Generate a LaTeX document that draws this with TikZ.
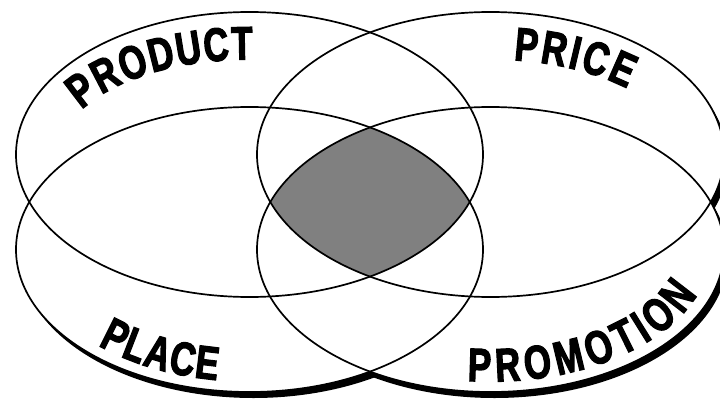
\documentclass[tikz,border=0pt]{standalone}
\usepackage{fontspec}
\newfontfamily\lfont[FakeStretch=0.74,FakeBold=2.5]{Liberation Sans}
\newcommand\labfont{\lfont\bfseries\fontsize{47}{47}\selectfont}
\usetikzlibrary{decorations.text,calc}
\begin{document}
\begin{tikzpicture}[x=1pt,y=1pt,
  ell/.style={x radius=233.5pt,y radius=142.5pt},
  outline/.style={draw=black,line width=1.7pt},
  lbl/.style={decorate,decoration={text along path,text align=fit to path,text={|\labfont|#1}}}]
\useasboundingbox (0,0) rectangle (720,400);
\coordinate (cA) at (249.5,245.5);
\coordinate (cB) at (490.5,245.5);
\coordinate (cC) at (249.5,150.5);
\coordinate (cD) at (490.5,150.5);
% shadow
\foreach \p in {cA,cB,cC,cD} \fill[black] ($(\p)+(4,-6)$) ellipse[ell];
% white fill
\foreach \p in {cA,cB,cC,cD} \fill[white] (\p) ellipse[ell];
% shaded common region
\begin{scope}
  \clip (cA) ellipse[ell];
  \clip (cB) ellipse[ell];
  \clip (cC) ellipse[ell];
  \fill[fill={rgb,255:red,128;green,128;blue,128}] (cD) ellipse[ell];
\end{scope}
% outlines
\foreach \p in {cA,cB,cC,cD} \draw[outline] (\p) ellipse[ell];
% labels
\path[lbl=PRODUCT] ($(cA)+(152:190pt and 95pt)$) arc[start angle=152,end angle=89,x radius=190pt,y radius=95pt];
\path[lbl=PRICE] ($(cB)+(83:190pt and 95pt)$) arc[start angle=83,end angle=44,x radius=190pt,y radius=95pt];
\path[lbl=PLACE] ($(cC)+(226.5:220pt and 132pt)$) arc[start angle=226.5,end angle=261.5,x radius=220pt,y radius=132pt];
\path[lbl=PROMOTION] ($(cD)+(264:220pt and 132pt)$) arc[start angle=264,end angle=340,x radius=220pt,y radius=132pt];
\end{tikzpicture}
\end{document}
